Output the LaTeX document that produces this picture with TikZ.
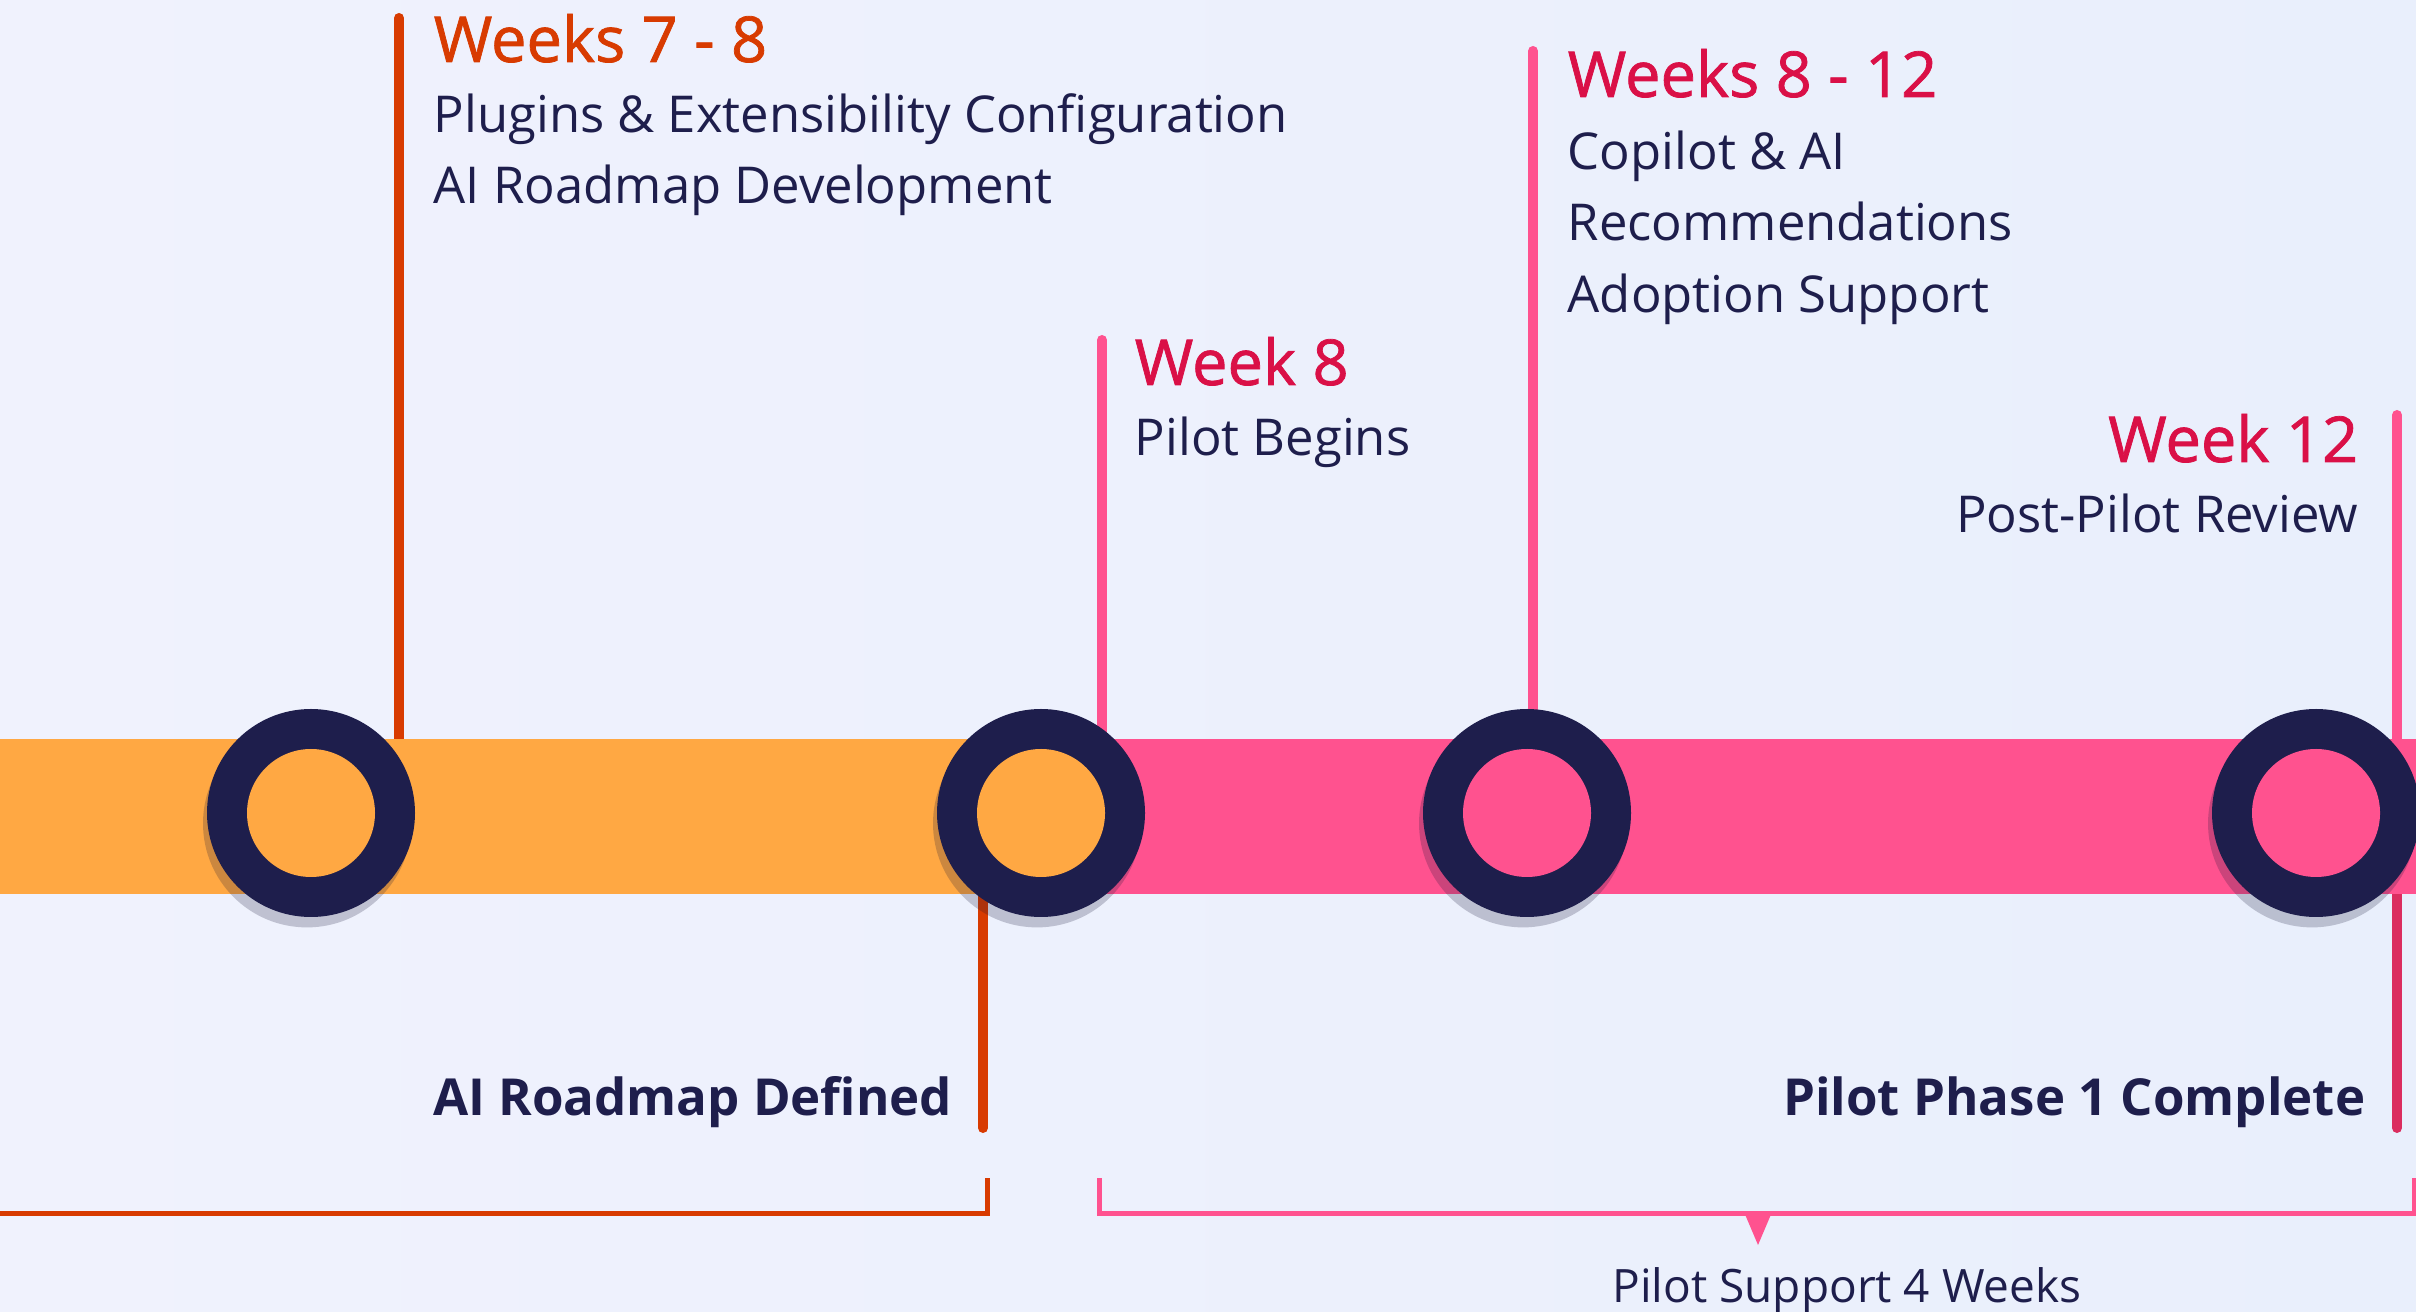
\documentclass[tikz,border=0pt]{standalone}
\usepackage{fontspec}
\setmainfont{Open Sans}
\newfontfamily\headfont[FakeBold=1.2]{Open Sans}
\usetikzlibrary{shadows,positioning}

\definecolor{navy}{HTML}{1E1E4C}
\definecolor{rust}{HTML}{D83B01}
\definecolor{amber}{HTML}{FFA843}
\definecolor{rose}{HTML}{FF528F}
\definecolor{crimson}{HTML}{DA1047}
\definecolor{ruby}{HTML}{DB2D5F}
\definecolor{bgleft}{HTML}{F0F2FD}
\definecolor{bgright}{HTML}{E9EFFC}

\tikzset{
    ring/.style={circle, fill=navy, minimum size=52pt, inner sep=0pt,
        drop shadow={shadow xshift=-1pt, shadow yshift=-2.6pt, opacity=.22, fill=navy!70!black}},
    dot/.style={circle, minimum size=32pt, inner sep=0pt},
    stem/.style={line width=2.5pt, line cap=round},
    brace/.style={line width=1.25pt},
    title/.style={inner sep=0pt, font=\headfont\fontsize{15.8}{18}\selectfont},
    body/.style={inner sep=0pt, text=navy, font=\fontsize{12.7}{15}\selectfont},
    note/.style={inner sep=0pt, text=navy, font=\fontsize{11.5}{14}\selectfont},
    milestone/.style={inner sep=0pt, text=navy, font=\fontsize{12.75}{16}\bfseries\selectfont}
}

\begin{document}
\begin{tikzpicture}[x=0.25pt, y=-0.25pt]
    % background
    \useasboundingbox (0,0) rectangle (2416,1312);
    \shade[left color=bgleft, right color=bgright] (0,0) rectangle (2416,1312);

    % stems
    \coordinate (a top) at (399,18);   \coordinate (a bot) at (399,790);
    \coordinate (b top) at (983,813);  \coordinate (b bot) at (983,1128);
    \coordinate (c top) at (1102,340); \coordinate (c bot) at (1102,790);
    \coordinate (d top) at (1533,51);  \coordinate (d bot) at (1533,790);
    \coordinate (e top) at (2397,415); \coordinate (e mid) at (2397,813);
    \coordinate (e bot) at (2397,1128);
    \draw[stem, rust] (a top) -- (a bot);
    \draw[stem, rust] (b top) -- (b bot);
    \draw[stem, rose] (c top) -- (c bot);
    \draw[stem, rose] (d top) -- (d bot);
    \draw[stem, rose] (e top) -- (e mid);
    \draw[stem, ruby] (e mid) -- (e bot);

    % the bar
    \fill[amber] (0,739) rectangle (1041,894);
    \fill[rose] (1041,739) rectangle (2416,894);

    % milestones
    \node[ring] (ring1) at (311,813) {};
    \node[dot, fill=amber] (dot1) at (ring1) {};
    \node[ring] (ring2) at (1041,813) {};
    \node[dot, fill=amber] (dot2) at (ring2) {};
    \node[ring] (ring3) at (1527,813) {};
    \node[dot, fill=rose] (dot3) at (ring3) {};
    \node[ring] (ring4) at (2316,813) {};
    \node[dot, fill=rose] (dot4) at (ring4) {};

    % upper labels
    \node[title, text=rust, anchor=base west] (w78) at (433,62) {Weeks 7 - 8};
    \node[body, anchor=base west] (w78a) at (433,133) {Plugins \& Extensibility Configuration};
    \node[body, anchor=base west] (w78b) at (433,204) {AI Roadmap Development};

    \node[title, text=crimson, anchor=base west] (w812) at (1567,97) {Weeks 8 - 12};
    \node[body, anchor=base west] (w812a) at (1567,170) {Copilot \& AI};
    \node[body, anchor=base west] (w812b) at (1567,241) {Recommendations};
    \node[body, anchor=base west] (w812c) at (1567,313) {Adoption Support};

    \node[title, text=crimson, anchor=base west] (w8) at (1134,385) {Week 8};
    \node[body, anchor=base west] (w8a) at (1134,456) {Pilot Begins};

    \node[title, text=crimson, anchor=base east] (w12) at (2359,462) {Week 12};
    \node[body, anchor=base east] (w12a) at (2359,533) {Post-Pilot Review};

    % lower labels
    \node[milestone, anchor=base east] (defined) at (953,1116) {AI Roadmap Defined};
    \node[milestone, anchor=base east] (complete) at (2366,1116) {Pilot Phase 1 Complete};

    % brackets
    \coordinate (o left) at (0,1213);  \coordinate (o corner) at (987,1213);
    \coordinate (o tip) at (987,1178);
    \draw[brace, rust] (o left) -- (o corner) -- (o tip);
    \coordinate (p tip) at (1099,1178); \coordinate (p left) at (1099,1213);
    \coordinate (p right) at (2414,1213); \coordinate (p end) at (2414,1178);
    \draw[brace, rose] (p tip) -- (p left) -- (p right) -- (p end);
    \fill[rose] (1744,1212) -- (1772,1212) -- (1758,1245) -- cycle;
    \node[note, anchor=base] (support) at (1847,1302) {Pilot Support 4 Weeks};
\end{tikzpicture}
\end{document}
